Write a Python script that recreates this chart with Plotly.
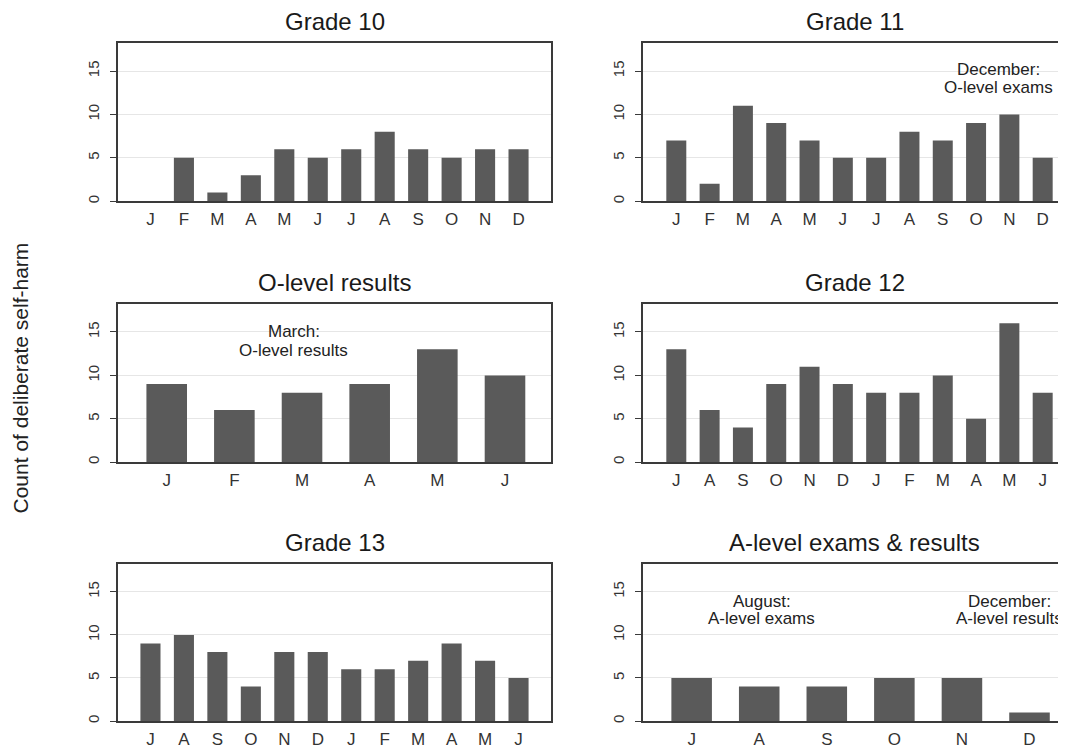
import plotly.graph_objects as go

# ---- data ----
titles = ["Grade 10", "Grade 11", "O-level results", "Grade 12", "Grade 13", "A-level exams & results"]

months_g10 = ["J", "F", "M", "A", "M", "J", "J", "A", "S", "O", "N", "D"]
counts_g10 = [0, 5, 1, 3, 6, 5, 6, 8, 6, 5, 6, 6]

months_g11 = ["J", "F", "M", "A", "M", "J", "J", "A", "S", "O", "N", "D"]
counts_g11 = [7, 2, 11, 9, 7, 5, 5, 8, 7, 9, 10, 5]

months_ol = ["J", "F", "M", "A", "M", "J"]
counts_ol = [9, 6, 8, 9, 13, 10]

months_g12 = ["J", "A", "S", "O", "N", "D", "J", "F", "M", "A", "M", "J"]
counts_g12 = [13, 6, 4, 9, 11, 9, 8, 8, 10, 5, 16, 8]

months_g13 = ["J", "A", "S", "O", "N", "D", "J", "F", "M", "A", "M", "J"]
counts_g13 = [9, 10, 8, 4, 8, 8, 6, 6, 7, 9, 7, 5]

months_al = ["J", "A", "S", "O", "N", "D"]
counts_al = [5, 4, 4, 5, 5, 1]

y_ticks = [0, 5, 10, 15]
y_title = "Count of deliberate self-harm"

panels = [
    (months_g10, counts_g10),
    (months_g11, counts_g11),
    (months_ol, counts_ol),
    (months_g12, counts_g12),
    (months_g13, counts_g13),
    (months_al, counts_al),
]

# ---- layout geometry ----
# the page body adds an 8px offset, so the figure is 8px smaller and
# all target screen positions are shifted by -8px
OFF = 8
W, H = 1066 - OFF, 749 - OFF


def px_x(p):
    return (p - OFF) / W


def px_y(p):
    return 1 - (p - OFF) / H


col_dom = [[px_x(118), px_x(551)], [px_x(643), 1.0]]
row_dom = [[px_y(202), px_y(43)], [px_y(464), px_y(305)], [px_y(724), px_y(566)]]
# x ranges (right column is cut at the picture edge)
x_ranges = [[-0.97, 11.97], [-1.0, 11.70], [-0.72, 5.68], [-1.0, 11.70], [-0.97, 11.97], [-0.72, 5.54]]

FONT = "Liberation Sans, Arial, sans-serif"
BAR = "#5a5a5a"
FRAME = "#3a3a3a"
GRID = "#e6e6e6"

fig = go.Figure()
layout = dict(
    width=W, height=H, autosize=False,
    margin=dict(l=0, r=0, t=0, b=0),
    paper_bgcolor="white", plot_bgcolor="white",
    showlegend=False,
    font=dict(family=FONT, color="#222"),
)
annotations = []

for i, (months, counts) in enumerate(panels):
    r, c = divmod(i, 2)
    k = i + 1
    xa = "x" if k == 1 else f"x{k}"
    ya = "y" if k == 1 else f"y{k}"
    xs = list(range(len(months)))
    fig.add_trace(go.Bar(x=xs, y=counts, xaxis=xa, yaxis=ya, marker=dict(color=BAR, line=dict(width=0)),
                         width=0.6, hoverinfo="skip"))
    layout["xaxis" if k == 1 else f"xaxis{k}"] = dict(
        domain=col_dom[c], anchor=ya, range=x_ranges[i],
        tickmode="array", tickvals=xs, ticktext=months,
        ticks="", showgrid=False, zeroline=False,
        showline=True, linecolor=FRAME, linewidth=1.5, mirror=True,
        tickfont=dict(size=17, color="#333", family=FONT), ticklabelstandoff=2,
        fixedrange=True,
    )
    layout["yaxis" if k == 1 else f"yaxis{k}"] = dict(
        domain=row_dom[r], anchor=xa, range=[0, 18.25],
        tickmode="array", tickvals=y_ticks,
        ticks="outside", ticklen=6, tickcolor=FRAME, tickwidth=1,
        tickangle=-90, tickfont=dict(size=15, color="#333", family=FONT), ticklabelstandoff=5,
        showgrid=True, gridcolor=GRID, gridwidth=1, zeroline=False,
        showline=True, linecolor=FRAME, linewidth=1.5, mirror=(c == 0),
        fixedrange=True,
    )
    annotations.append(dict(
        text=titles[i], xref=f"{xa} domain", yref=f"{ya} domain", x=0.5, y=1,
        xanchor="center", yanchor="middle", yshift=21, showarrow=False,
        font=dict(size=24, color="#1a1a1a", family=FONT),
    ))

# in-panel notes
notes = [
    ("x2", "y2", 9.66, 15.2, "December:"),
    ("x2", "y2", 9.66, 13.1, "O-level exams"),
    ("x3", "y3", 1.88, 15.0, "March:"),
    ("x3", "y3", 1.88, 12.9, "O-level results"),
    ("x6", "y6", 1.04, 13.85, "August:"),
    ("x6", "y6", 1.04, 11.9, "A-level exams"),
    ("x6", "y6", 4.70, 13.85, "December:"),
    ("x6", "y6", 4.70, 11.9, "A-level results"),
]
for xr, yr, x, y, t in notes:
    annotations.append(dict(text=t, xref=xr, yref=yr, x=x, y=y, xanchor="center", yanchor="middle",
                            showarrow=False, font=dict(size=17, color="#222", family=FONT)))

annotations.append(dict(text=y_title, xref="paper", yref="paper", x=px_x(20), y=px_y(380),
                        xanchor="center", yanchor="middle", textangle=-90, showarrow=False,
                        font=dict(size=21, color="#222", family=FONT)))

layout["annotations"] = annotations
fig.update_layout(**layout)
fig.write_html("out.html")
